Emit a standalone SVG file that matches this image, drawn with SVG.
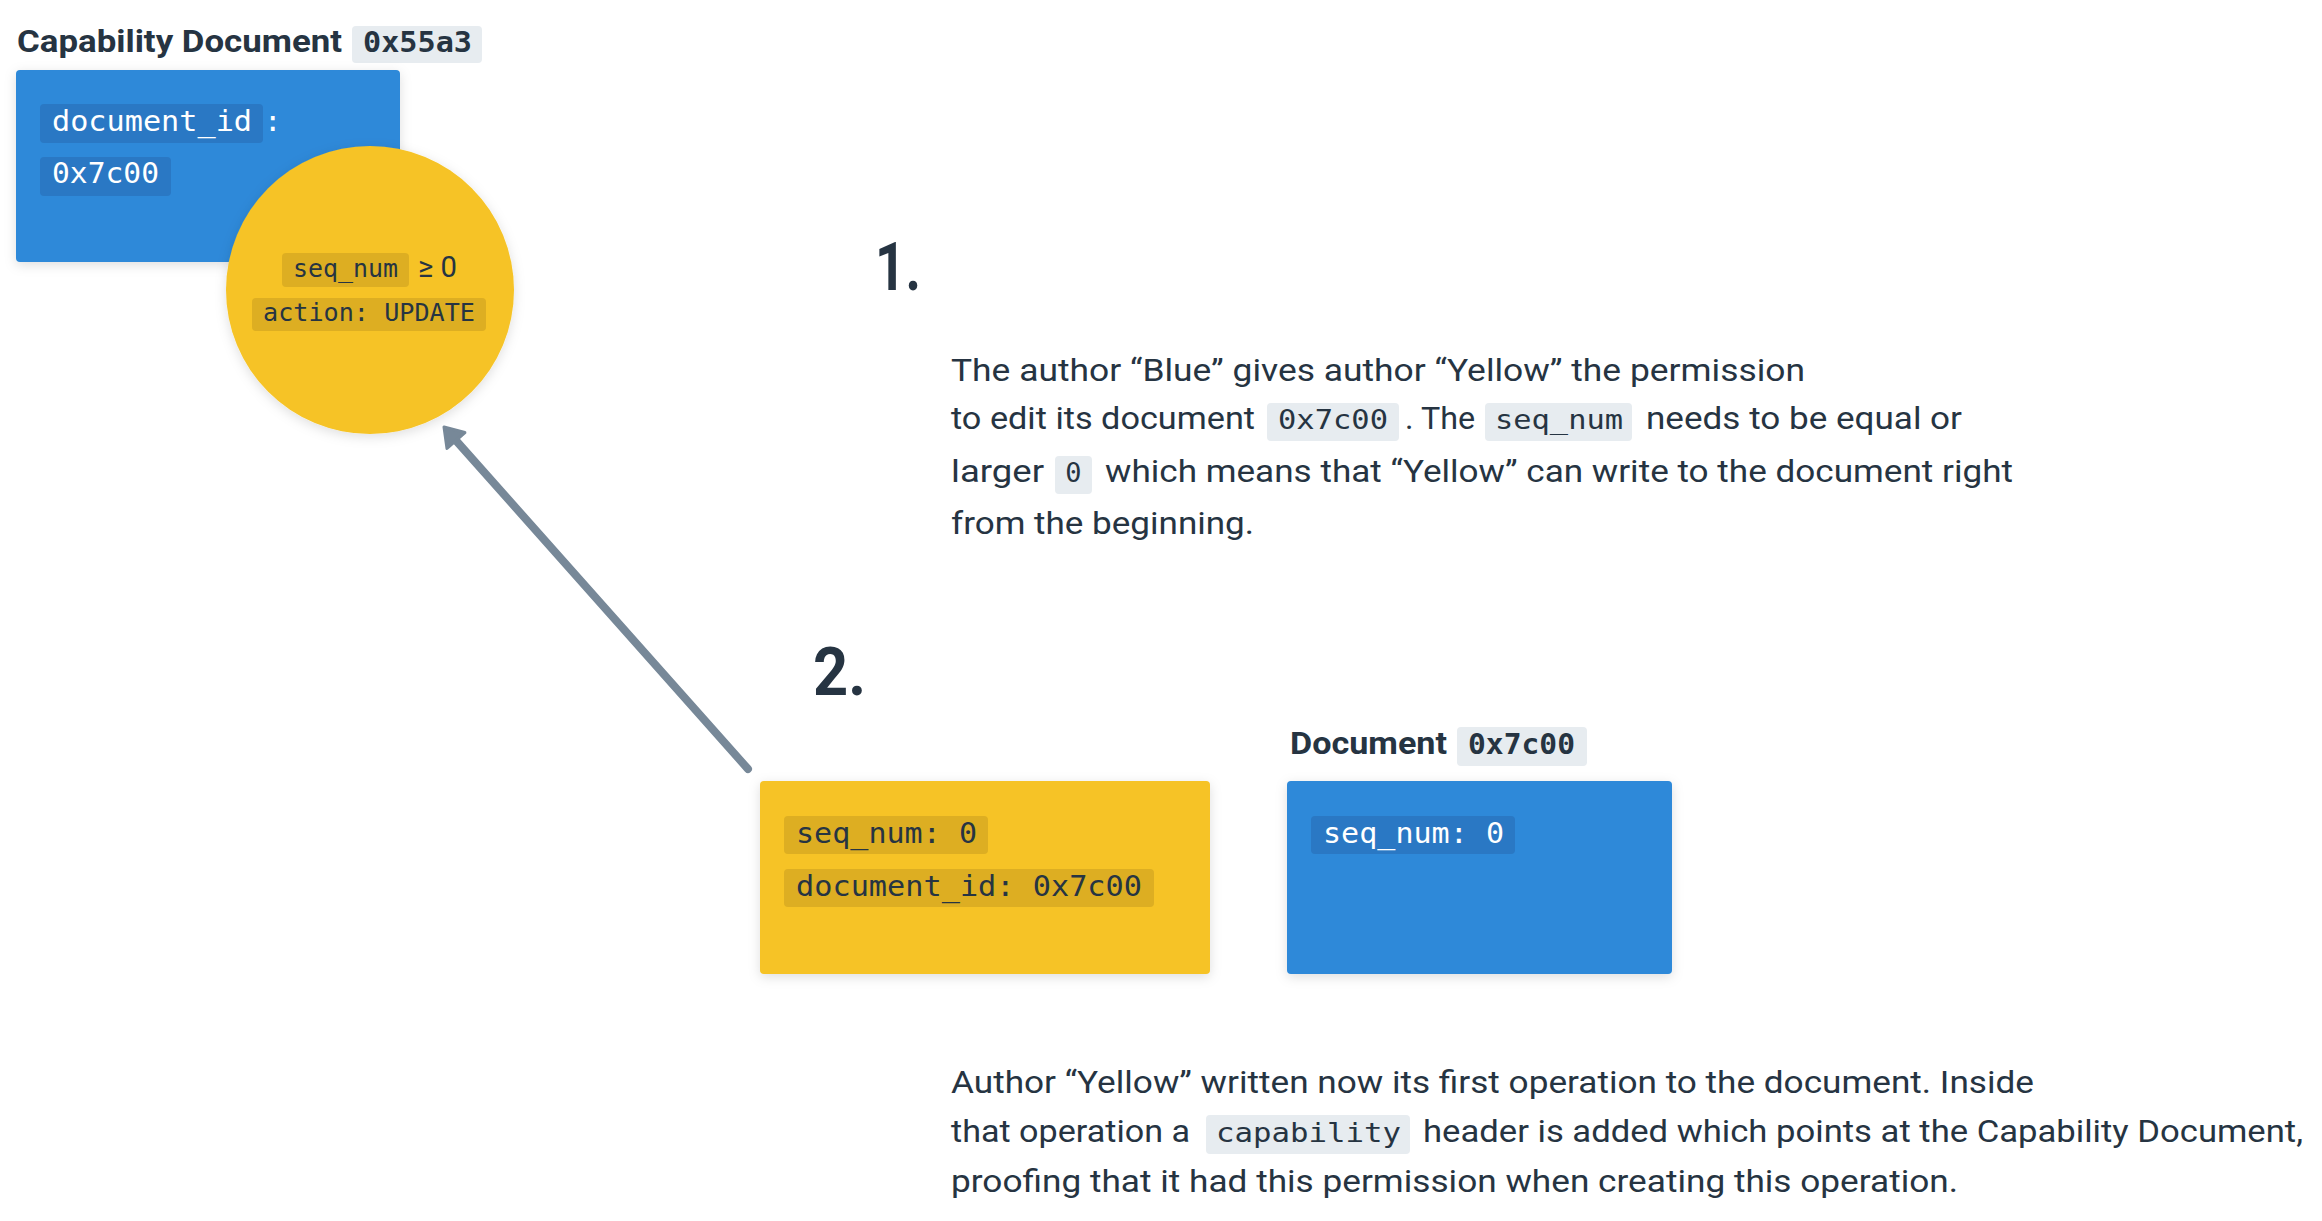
<svg xmlns="http://www.w3.org/2000/svg" width="2322" height="1221" viewBox="0 0 2322 1221">
<defs>
<filter id="sh" x="-20%" y="-20%" width="140%" height="140%">
<feDropShadow dx="0" dy="3" stdDeviation="6" flood-color="#000" flood-opacity="0.13"/>
</filter>
<marker id="ah" markerUnits="userSpaceOnUse" viewBox="-2 -2 22 28" markerWidth="22" markerHeight="28" refX="4" refY="12" orient="auto">
<path d="M0,0 L18,12 L0,24 z" fill="#778898" stroke="#778898" stroke-width="3" stroke-linejoin="round"/>
</marker>
<style>
.sans{font-family:Roboto,"Liberation Sans",sans-serif;fill:#263442}
.bold{font-weight:700}
.p{font-size:32px}
.mono{font-family:"DejaVu Sans Mono","Liberation Mono",monospace}
.w{fill:#ffffff}
.d{fill:#263442}
.code{fill:#E7ECF0}
.py{fill:#DDAE22}
.pb{fill:#2A78C4}
.yel{fill:#F6C325}
.blu{fill:#2D89D9}
</style>
</defs>
<rect width="2322" height="1221" fill="#ffffff"/>

<g id="capability-document">
<text class="sans bold" x="17" y="52" font-size="32" textLength="325" lengthAdjust="spacingAndGlyphs">Capability Document</text>
<rect class="code" x="352" y="26" width="130" height="37" rx="4"/>
<text class="mono bold d" x="363" y="52" font-size="29" textLength="109" lengthAdjust="spacingAndGlyphs">0x55a3</text>
<rect class="blu" x="16" y="70" width="384" height="192" rx="4" filter="url(#sh)"/>
<rect class="pb" x="40" y="104" width="223" height="39" rx="4"/>
<text class="mono w" x="52" y="131" font-size="29" textLength="200" lengthAdjust="spacingAndGlyphs">document_id</text>
<text class="mono w" x="264" y="131" font-size="29">:</text>
<rect class="pb" x="40" y="157" width="131" height="39" rx="4"/>
<text class="mono w" x="52" y="183" font-size="29" textLength="107" lengthAdjust="spacingAndGlyphs">0x7c00</text>
</g>

<g id="capability-circle">
<circle class="yel" cx="370" cy="290" r="144" filter="url(#sh)"/>
<rect class="py" x="282" y="253" width="127" height="34" rx="4"/>
<text class="mono d" x="293" y="277" font-size="25" textLength="105" lengthAdjust="spacingAndGlyphs">seq_num</text>
<text class="sans" x="418" y="277" font-size="30" textLength="39" lengthAdjust="spacingAndGlyphs">≥ 0</text>
<rect class="py" x="252" y="298" width="234" height="33" rx="4"/>
<text class="mono d" x="263" y="321" font-size="25" textLength="212" lengthAdjust="spacingAndGlyphs">action: UPDATE</text>
</g>

<g id="step-1">
<text class="sans bold" x="875" y="290" font-size="67" textLength="46" lengthAdjust="spacingAndGlyphs">1.</text>
<text class="sans p" x="951" y="381" textLength="854" lengthAdjust="spacingAndGlyphs">The author “Blue” gives author “Yellow” the permission</text>
<text class="sans p" x="951" y="429" textLength="304" lengthAdjust="spacingAndGlyphs">to edit its document</text>
<rect class="code" x="1267" y="403" width="132" height="38" rx="4"/>
<text class="mono d" x="1278" y="429" font-size="27" textLength="110" lengthAdjust="spacingAndGlyphs">0x7c00</text>
<text class="sans p" x="1405" y="429" textLength="70" lengthAdjust="spacingAndGlyphs">. The</text>
<rect class="code" x="1485" y="403" width="147" height="38" rx="4"/>
<text class="mono d" x="1495" y="429" font-size="27" textLength="128" lengthAdjust="spacingAndGlyphs">seq_num</text>
<text class="sans p" x="1646" y="429" textLength="316" lengthAdjust="spacingAndGlyphs">needs to be equal or</text>
<text class="sans p" x="951" y="482" textLength="93" lengthAdjust="spacingAndGlyphs">larger</text>
<rect class="code" x="1055" y="456" width="37" height="38" rx="4"/>
<text class="mono d" x="1073.5" y="482" font-size="27" text-anchor="middle">0</text>
<text class="sans p" x="1105" y="482" textLength="908" lengthAdjust="spacingAndGlyphs">which means that “Yellow” can write to the document right</text>
<text class="sans p" x="951" y="534" textLength="303" lengthAdjust="spacingAndGlyphs">from the beginning.</text>
</g>

<g id="step-2">
<text class="sans bold" x="813" y="695" font-size="67" textLength="53" lengthAdjust="spacingAndGlyphs">2.</text>
</g>

<g id="operation">
<rect class="yel" x="760" y="781" width="450" height="193" rx="4" filter="url(#sh)"/>
<rect class="py" x="784" y="816" width="204" height="38" rx="4"/>
<text class="mono d" x="796" y="843" font-size="29" textLength="181" lengthAdjust="spacingAndGlyphs">seq_num: 0</text>
<rect class="py" x="784" y="869" width="370" height="38" rx="4"/>
<text class="mono d" x="796" y="896" font-size="29" textLength="346" lengthAdjust="spacingAndGlyphs">document_id: 0x7c00</text>
</g>

<g id="document">
<text class="sans bold" x="1290" y="754" font-size="32" textLength="157" lengthAdjust="spacingAndGlyphs">Document</text>
<rect class="code" x="1457" y="727" width="130" height="39" rx="4"/>
<text class="mono bold d" x="1468" y="754" font-size="29" textLength="107" lengthAdjust="spacingAndGlyphs">0x7c00</text>
<rect class="blu" x="1287" y="781" width="385" height="193" rx="4" filter="url(#sh)"/>
<rect class="pb" x="1311" y="816" width="204" height="38" rx="4"/>
<text class="mono w" x="1323" y="843" font-size="29" textLength="181" lengthAdjust="spacingAndGlyphs">seq_num: 0</text>
</g>

<g id="explanation-2">
<text class="sans p" x="951" y="1093" textLength="1083" lengthAdjust="spacingAndGlyphs">Author “Yellow” written now its first operation to the document. Inside</text>
<text class="sans p" x="951" y="1142" textLength="239" lengthAdjust="spacingAndGlyphs">that operation a</text>
<rect class="code" x="1206" y="1115" width="204" height="39" rx="4"/>
<text class="mono d" x="1216" y="1142" font-size="27" textLength="185" lengthAdjust="spacingAndGlyphs">capability</text>
<text class="sans p" x="1423" y="1142" textLength="880" lengthAdjust="spacingAndGlyphs">header is added which points at the Capability Document,</text>
<text class="sans p" x="951" y="1192" textLength="1007" lengthAdjust="spacingAndGlyphs">proofing that it had this permission when creating this operation.</text>
</g>

<g id="connectors">
<path d="M748,769 L453.3,437.5" fill="none" stroke="#778898" stroke-width="8" stroke-linecap="round" marker-end="url(#ah)"/>
</g>
</svg>
